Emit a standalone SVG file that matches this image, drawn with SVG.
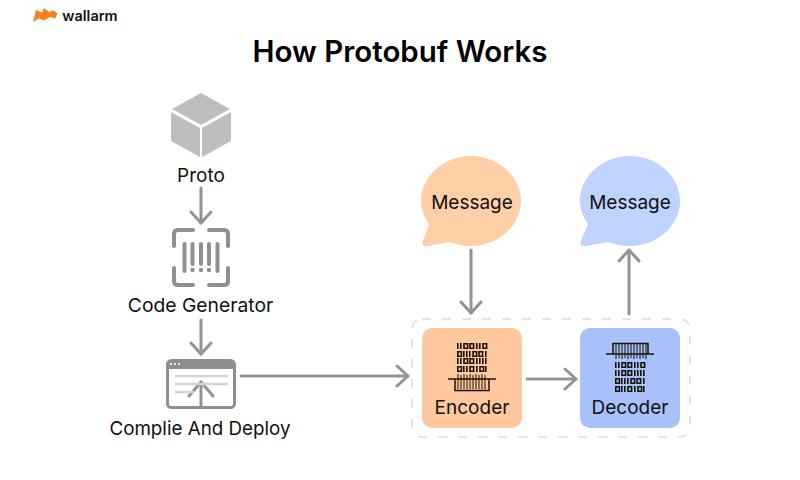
<svg xmlns="http://www.w3.org/2000/svg" width="800" height="480" viewBox="0 0 800 480">
<style>
text{font-family:Inter,"Liberation Sans",sans-serif;fill:#111;text-anchor:middle;font-size:19px}
.title{font-size:29.500px;font-weight:600;fill:#000}
.conn{fill:none;stroke:#939393;stroke-width:3;stroke-linecap:round;stroke-linejoin:round}
.ic{fill:none;stroke:#8f8f8f;stroke-width:4;stroke-linecap:round;stroke-linejoin:round}
.bit{fill:none;stroke:#1a1208;stroke-width:1.600}
</style>
<defs>
<marker id="arr" markerUnits="userSpaceOnUse" markerWidth="22" markerHeight="26" refX="18" refY="13" orient="auto">
<path d="M7 3L18 13L7 23" fill="none" stroke="#939393" stroke-width="3" stroke-linecap="round" stroke-linejoin="round"/>
</marker>
<marker id="arr-big" markerUnits="userSpaceOnUse" markerWidth="24" markerHeight="30" refX="20" refY="15" orient="auto">
<path d="M6 3L20 15L6 27" fill="none" stroke="#939393" stroke-width="3" stroke-linecap="round" stroke-linejoin="round"/>
</marker>
<g id="r1"><path class="bit" d="M.8 0v6M3.800 0v6M7 .8h3.600v4.400H7zM13 .8h3.600v4.400H13zM19.800 0v6M22.800 0v6M26 .8h3.600v4.400H26z"/></g>
<g id="r2"><path class="bit" d="M.8 .8h3.600v4.400H.8zM6.800 0v6M9.800 0v6M12.800 0v6M16 .8h3.600v4.400H16zM22 .8h3.600v4.400H22zM28.800 0v6"/></g>
<g id="r3"><path class="bit" d="M.8 0v6M3.800 0v6M7 .8h3.600v4.400H7zM13 .8h3.600v4.400H13zM19.800 0v6M22.800 0v6M25.800 0v6M28.800 0v6"/></g>
<g id="r4"><path class="bit" d="M.8 .8h3.600v4.400H.8zM6.800 0v6M9.800 0v6M13 .8h3.600v4.400H13zM19.800 0v6M23 .8h3.600v4.400H23zM28.800 0v6"/></g>
</defs>
<rect width="800" height="480" fill="#fff"/>
<g id="logo">
<path d="M33 22L36 10L42 12.500L44 8L49 12L53 10.500L57.500 13L55.500 18.500L50 17L44 20.500L39 18.500Z" fill="#f58220"/>
<text x="90" y="21" style="font-size:14.500px;font-weight:600">wallarm</text>
</g>
<text class="title" x="400" y="62">How Protobuf Works</text>
<g id="connectors">
<path class="conn" d="M201 188V223" marker-end="url(#arr)"/>
<path class="conn" d="M201 320V354" marker-end="url(#arr)"/>
<path class="conn" d="M201 407V382" marker-end="url(#arr-big)"/>
<path class="conn" d="M241 376H408" marker-end="url(#arr)"/>
<path class="conn" d="M471 250V313" marker-end="url(#arr)"/>
<path class="conn" d="M527 379H576" marker-end="url(#arr)"/>
<path class="conn" d="M629 314V250" marker-end="url(#arr)"/>
</g>
<g id="proto">
<path d="M201 93L230 109L201 125L172 109Z" fill="#bdbdbd"/>
<path d="M171 112L200 128V157L171 141Z" fill="#bdbdbd"/>
<path d="M231 112L202 128V157L231 141Z" fill="#bdbdbd"/>
<text x="201" y="182">Proto</text>
</g>
<g id="code-generator">
<path class="ic" d="M174 246V234Q174 230 178 230H193M209 230H224Q228 230 228 234V246M174 268V281Q174 285 178 285H193M209 285H224Q228 285 228 281V268"/>
<path class="ic" d="M184.500 244V271M192.500 244V264M201 244V264M209 244V264M217.500 244V271"/>
<circle cx="192.500" cy="270" r="2.200" fill="#8f8f8f"/>
<circle cx="201" cy="270" r="2.200" fill="#8f8f8f"/>
<circle cx="209" cy="270" r="2.200" fill="#8f8f8f"/>
<text x="200.500" y="312" style="font-size:19.300px">Code Generator</text>
</g>
<g id="compile">
<rect x="167.500" y="360.500" width="67" height="47" rx="4" fill="none" stroke="#8f8f8f" stroke-width="3"/>
<path d="M167 364q0-4 4-4h60q4 0 4 4v5h-68z" fill="#8f8f8f"/>
<circle cx="171" cy="364" r="1" fill="#fff"/><circle cx="175" cy="364" r="1" fill="#fff"/><circle cx="179" cy="364" r="1" fill="#fff"/>
<path d="M175 376H228M175 384H228M175 392H194" stroke="#d4d4d4" stroke-width="2.500" fill="none"/>
<text x="200" y="435" style="font-size:18.800px">Complie And Deploy</text>
</g>
<g id="container">
<rect x="412" y="319" width="278" height="118" rx="10" fill="none" stroke="#dcdcdc" stroke-width="1.500" stroke-dasharray="9 11"/>
</g>
<g id="msg1">
<path d="M471 156C498 156 521 176 521 201C521 226 498 246 471 246C463 246 456 244 449 242L428 246Q421 247 423 241L429 224C424 217 421 209 421 201C421 176 444 156 471 156Z" fill="#ffcfa8"/>
<text x="472" y="209">Message</text>
</g>
<g id="msg2">
<path d="M630 156C657 156 680 176 680 201C680 226 657 246 630 246C622 246 615 244 608 242L586 246Q579 247 581 241L588 224C583 217 580 209 580 201C580 176 603 156 630 156Z" fill="#bfd3ff"/>
<text x="630" y="209">Message</text>
</g>
<g id="encoder">
<rect x="422" y="328" width="100" height="100" rx="10" fill="#ffc89e"/>
<use href="#r1" x="457" y="343"/><use href="#r2" x="457" y="351"/><use href="#r3" x="457" y="358"/><use href="#r4" x="457" y="366"/>
<path d="M448 379H496M455 379V390.500H489V379" fill="none" stroke="#1a1208" stroke-width="1.500"/>
<path d="M458 374V389M461 375V389M464 374V389M467 375V389M470 374V389M473 375V389M476 374V389M479 375V389M482 374V389M485 375V389" stroke="#1a1208" stroke-width="1" fill="none"/>
<text x="472" y="414">Encoder</text>
</g>
<g id="decoder">
<rect x="580" y="328" width="100" height="100" rx="10" fill="#a9c1fb"/>
<path d="M606 354H654M613 354V343.500H648V354" fill="none" stroke="#1a1208" stroke-width="1.500"/>
<path d="M616 344V359M619 344V358M622 344V359M625 344V358M628 344V359M631 344V358M634 344V359M637 344V358M640 344V359M643 344V358M646 344V359" stroke="#1a1208" stroke-width="1" fill="none"/>
<use href="#r1" x="615" y="362"/><use href="#r3" x="615" y="370"/><use href="#r2" x="615" y="378"/><use href="#r4" x="615" y="386"/>
<text x="630" y="414">Decoder</text>
</g>
</svg>
